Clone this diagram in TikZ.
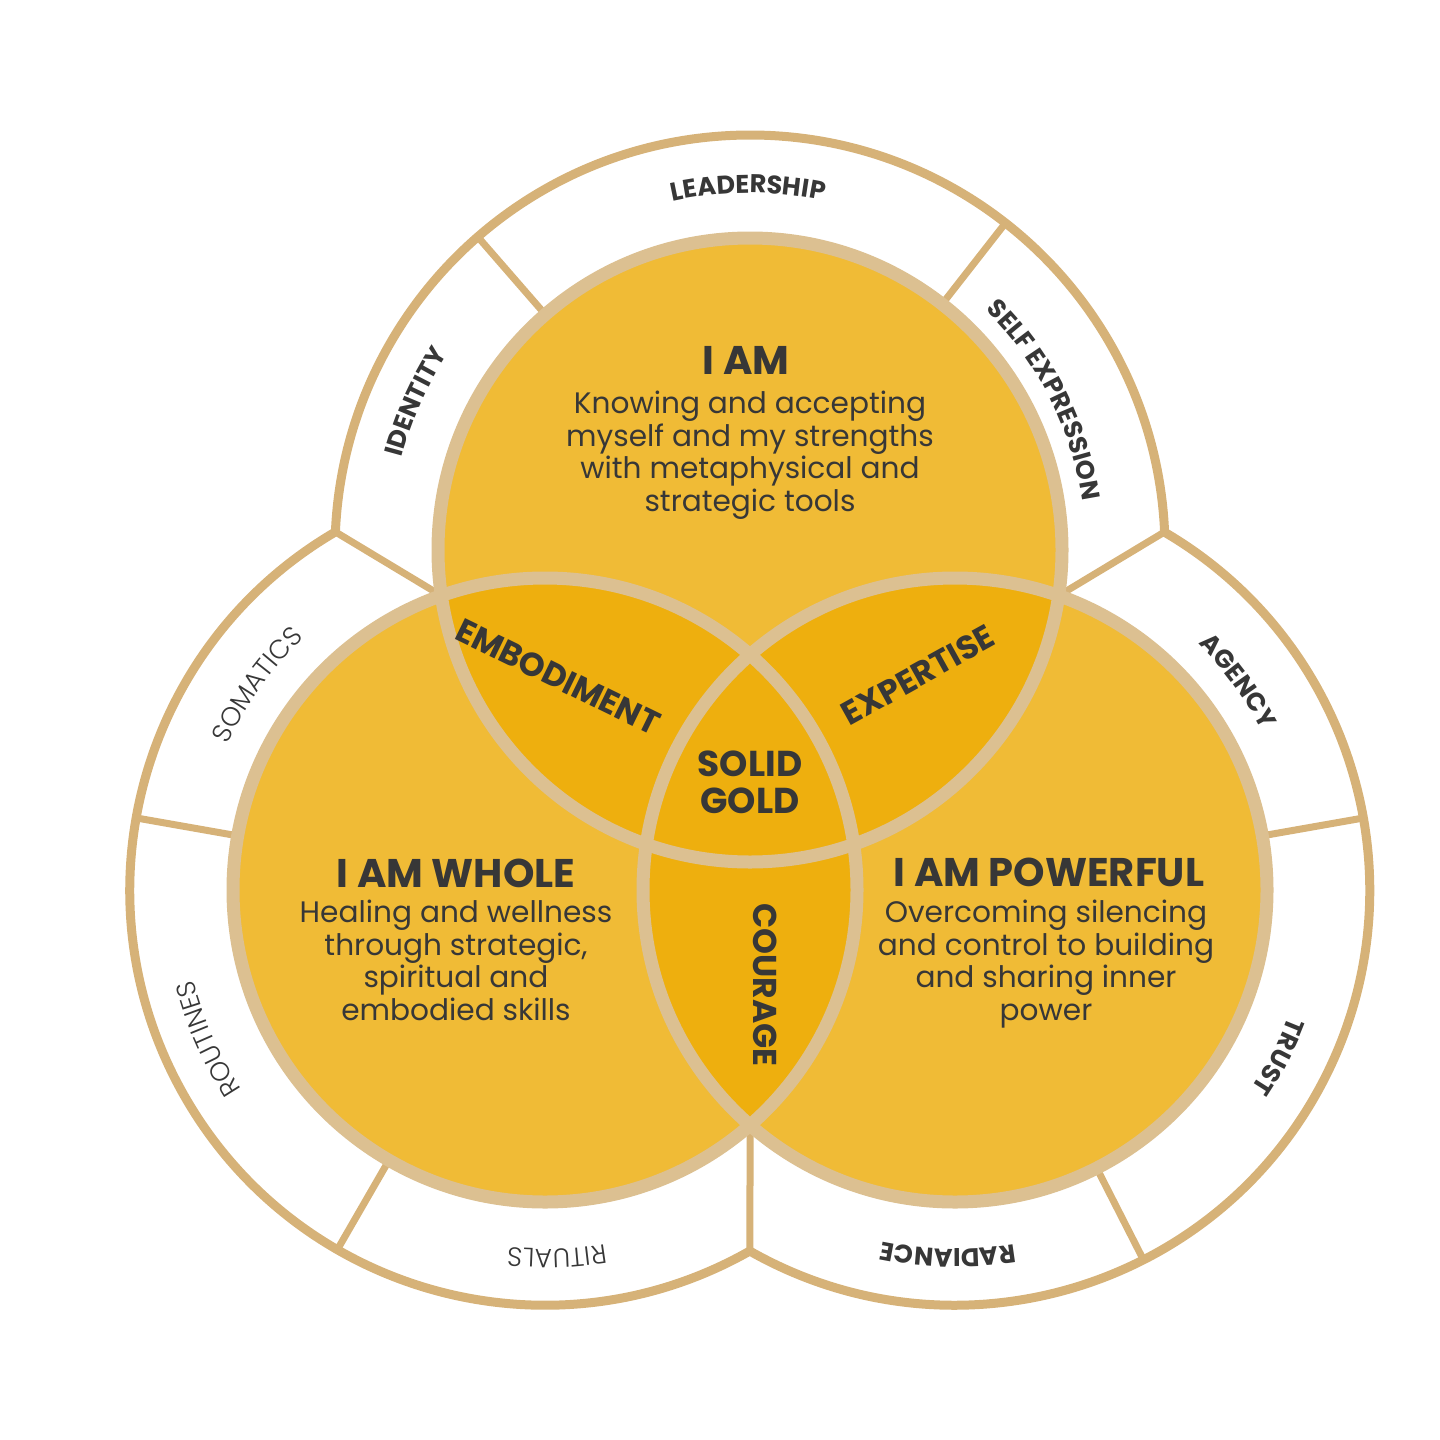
\documentclass[tikz,border=0pt]{standalone}
\usepackage{fontspec}
\setmainfont{Poppins}
\newfontfamily\thinfont{Poppins Light}
\usetikzlibrary{calc,decorations.text}

\definecolor{sungold}{RGB}{240,187,54}
\definecolor{deepgold}{RGB}{238,175,14}
\definecolor{rimgold}{RGB}{220,192,145}
\definecolor{ringgold}{RGB}{214,178,120}
\definecolor{inkgrey}{RGB}{55,55,55}

\newcommand\bandbold{\bfseries\fontsize{12.8}{12.8}\selectfont}
\newcommand\bandthin{\thinfont\fontsize{13.3}{13.3}\selectfont}

\tikzset{
  ring/.style={draw=ringgold, line width=4.5pt, line join=round},
  rim/.style={draw=rimgold, line width=6.5pt},
  spoke/.style={draw=ringgold, line width=3.5pt},
  title/.style={text=inkgrey, font=\bfseries\fontsize{20}{23}\selectfont},
  blurb/.style={text=inkgrey, align=center, anchor=north, inner sep=0pt,
    font=\fontsize{14.8}{16.25}\selectfont},
  lens/.style={text=inkgrey, font=\bfseries\fontsize{16.5}{18}\selectfont},
  bandtext/.style={decorate, decoration={text along path, text align=center,
    text color=inkgrey, text={#1}}},
}

\begin{document}
\begin{tikzpicture}[x=0.5pt,y=0.5pt]
	\useasboundingbox (0,0) rectangle (1440,-1440);

	\coordinate (T) at (750,-550);
	\coordinate (L) at (545,-890);
	\coordinate (R) at (955,-890);

	% circle fills
	\fill[sungold] (T) circle (312) (L) circle (312) (R) circle (312);
	\begin{scope}
	\clip (T) circle (312);
	\fill[deepgold] (L) circle (312) (R) circle (312);
	\end{scope}
	\begin{scope}
	\clip (L) circle (312);
	\fill[deepgold] (R) circle (312);
	\end{scope}

	% outer band
	\draw[ring] ($(T)+(2.5:415)$) arc (2.5:177.5:415) arc (120.3:299.6:415)
		arc (240.4:419.7:415) -- cycle;

	% cusps and crossings
	\coordinate (cTL) at ($(T)+(177.5:415)$);
	\coordinate (cTR) at ($(T)+(2.5:415)$);
	\coordinate (cB) at ($(L)+(299.6:415)$);
	\coordinate (xTL) at (441.4,-595.7);
	\coordinate (xTR) at (1058.6,-595.7);
	\coordinate (xB) at (750,-1125.2);

	\draw[spoke] (cTL) -- (xTL);
	\draw[spoke] (cTR) -- (xTR);
	\draw[spoke] (cB) -- (xB);
	\foreach \a in {52,131} \draw[spoke] ($(T)+(\a:312)$) -- ($(T)+(\a:415)$);
	\foreach \a in {170,240} \draw[spoke] ($(L)+(\a:312)$) -- ($(L)+(\a:415)$);
	\foreach \a in {10,297} \draw[spoke] ($(R)+(\a:312)$) -- ($(R)+(\a:415)$);

	% circle borders
	\draw[rim] (T) circle (312) (L) circle (312) (R) circle (312);

	% band labels
	\path[bandtext={|\bandbold|LEADERSHIP}] ($(T)+(135.3:357)$) arc (135.3:45.3:357);
	\path[bandtext={|\bandbold|IDENTITY}] ($(T)+(201.1:360)$) arc (201.1:111.1:360);
	\path[bandtext={|\bandbold|SELF EXPRESSION}] ($(T)+(72:336)$) arc (72:-18:336);
	\path[bandtext={|\bandthin|SOMATICS}] ($(L)+(189.5:349)$) arc (189.5:99.5:349);
	\path[bandtext={|\bandthin|ROUTINES}] ($(L)+(248.8:363)$) arc (248.8:158.8:363);
	\path[bandtext={|\bandthin|RITUALS}] ($(L)+(316.9:359)$) arc (316.9:226.9:359);
	\path[bandtext={|\bandbold|AGENCY}] ($(R)+(81.4:346)$) arc (81.4:-8.6:346);
	\path[bandtext={|\bandbold|TRUST}] ($(R)+(377.7:357)$) arc (377.7:287.7:357);
	\path[bandtext={|\bandbold|RADIANCE}] ($(R)+(313.9:359)$) arc (313.9:223.9:359);

	% circle texts
	\node[title] (amT) at (746,-360) {I AM};
	\node[blurb] (amTtxt) at (750,-391) {Knowing and accepting\\myself and my strengths\\with metaphysical and\\strategic tools};
	\node[title] (amL) at (456,-873) {I AM WHOLE};
	\node[blurb] (amLtxt) at (456,-900) {Healing and wellness\\through strategic,\\spiritual and\\embodied skills};
	\node[title] (amR) at (1049,-872) {I AM POWERFUL};
	\node[blurb] (amRtxt) at (1046,-900) {Overcoming silencing\\and control to building\\and sharing inner\\power};

	% lens texts
	\node[lens, align=center, font=\bfseries\fontsize{18}{18.5}\selectfont] (core) at (750,-782) {SOLID\\GOLD};
	\node[lens, rotate=-26] (embody) at (558,-677) {EMBODIMENT};
	\node[lens, rotate=29] (expert) at (918,-675) {EXPERTISE};
	\node[lens, rotate=-90] (nerve) at (765,-985) {COURAGE};
\end{tikzpicture}
\end{document}
